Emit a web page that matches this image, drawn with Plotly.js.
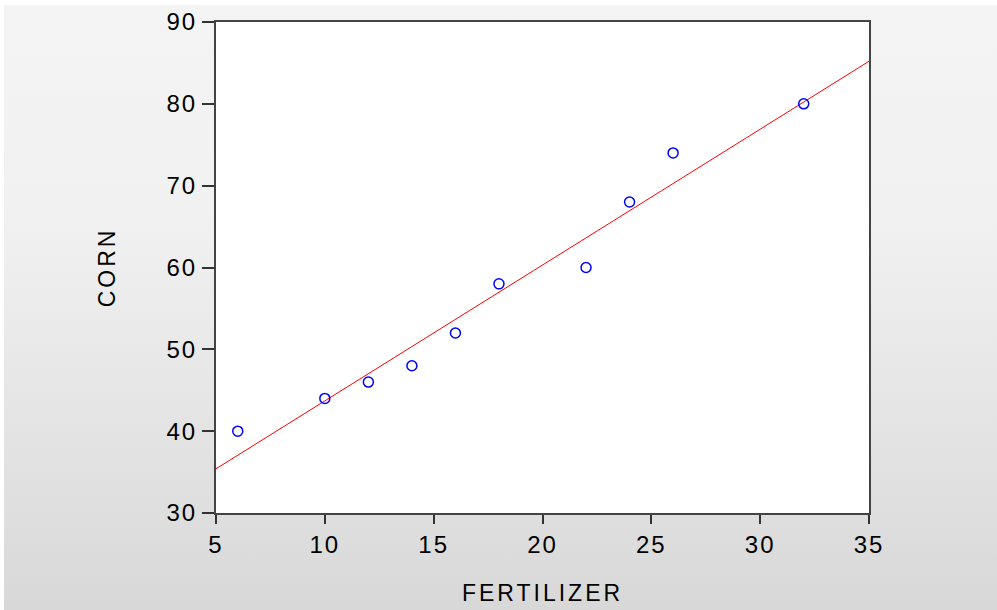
<!DOCTYPE html>
<html>
<head>
<meta charset="utf-8">
<script src="https://cdn.plot.ly/plotly-3.0.1.min.js"></script>
<style>
  html, body { margin: 0; padding: 0; background: #ffffff; }
  #bg { position: absolute; left: 4px; top: 5px; width: 993px; height: 605px;
        background: linear-gradient(to bottom, #f4f4f4 0%, #f1f1f1 35%, #e2e2e2 75%, #d8d8d8 100%); }
  #chart { position: absolute; left: 0; top: 0; width: 997px; height: 610px; }
  #chart .xtitle, #chart .ytitle { letter-spacing: 3px; }
  #chart .xtick text, #chart .ytick text { letter-spacing: 2px; }
</style>
</head>
<body>
<div id="bg"></div>
<div id="chart"></div>
<script>
// Observed data
const fertilizer = [6, 10, 12, 14, 16, 18, 22, 24, 26, 32];
const corn = [40, 44, 46, 48, 52, 58, 60, 68, 74, 80];
// Fitted regression line endpoints
const fitX = [5, 35];
const fitY = [35.4, 85.2];
const xTicks = [5, 10, 15, 20, 25, 30, 35];
const yTicks = [30, 40, 50, 60, 70, 80, 90];

const fontFam = '"Liberation Sans", Arial, sans-serif';

const traces = [
  {
    x: fitX, y: fitY, type: 'scatter', mode: 'lines',
    line: { color: '#ff0000', width: 1 }, hoverinfo: 'skip', showlegend: false
  },
  {
    x: fertilizer, y: corn, type: 'scatter', mode: 'markers',
    marker: { symbol: 'circle-open', size: 10, color: '#0000ff', line: { color: '#0000ff', width: 1.5 } },
    showlegend: false
  }
];

const layout = {
  width: 997, height: 610,
  margin: { l: 216, r: 128, t: 22, b: 97 },
  paper_bgcolor: 'rgba(0,0,0,0)',
  plot_bgcolor: '#ffffff',
  showlegend: false,
  font: { family: fontFam, size: 23, color: '#000000' },
  xaxis: {
    range: [5, 35], tickvals: xTicks, ticktext: xTicks.map(String),
    showgrid: false, zeroline: false,
    showline: true, linecolor: '#444444', linewidth: 2, mirror: true,
    ticks: 'outside', ticklen: 9, tickwidth: 2, tickcolor: '#333333',
    tickfont: { family: fontFam, size: 24, color: '#000000' },
    title: { text: 'FERTILIZER', font: { family: fontFam, size: 23, color: '#000000' }, standoff: 28 }
  },
  yaxis: {
    range: [30, 90], tickvals: yTicks, ticktext: yTicks.map(String),
    showgrid: false, zeroline: false,
    showline: true, linecolor: '#444444', linewidth: 2, mirror: true,
    ticks: 'outside', ticklen: 12, tickwidth: 2, tickcolor: '#333333',
    tickfont: { family: fontFam, size: 24, color: '#000000' },
    title: { text: 'CORN', font: { family: fontFam, size: 23, color: '#000000' }, standoff: 48 }
  }
};

Plotly.newPlot('chart', traces, layout, { displayModeBar: false, staticPlot: true });
</script>
</body>
</html>
